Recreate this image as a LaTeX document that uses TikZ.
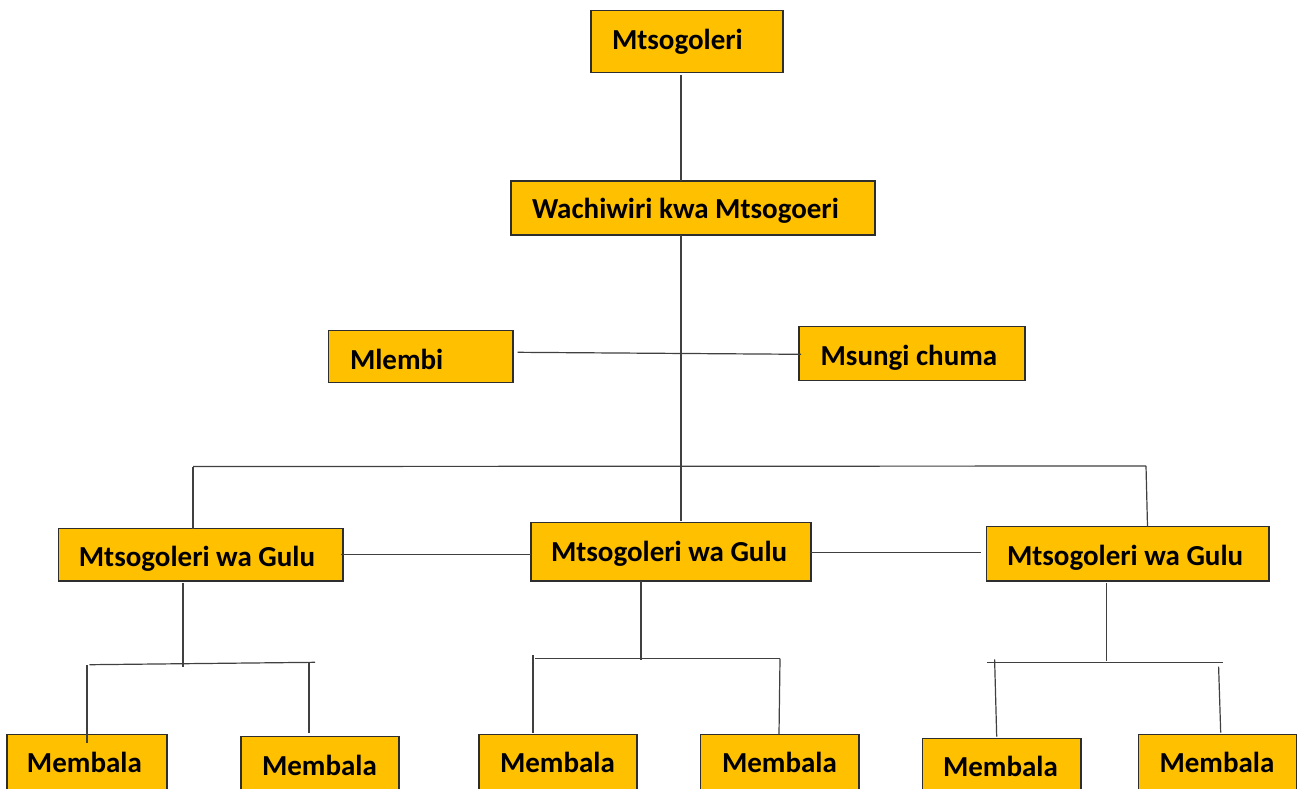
\documentclass[tikz,border=0pt]{standalone}
\usepackage{fontspec}
\setmainfont{Carlito}
\newcommand{\lbox}[2]{\makebox[#1][l]{#2}}
\begin{document}
\begin{tikzpicture}[x=1pt,y=-1pt,
  orgbox/.style={draw=black!82, line width=1.1pt, fill=boxfill, anchor=base west,
    inner ysep=0pt, outer sep=0pt,
    font=\fontsize{29}{34}\selectfont\bfseries, text=black},
  link/.style={draw=black!75, line width=1.2pt}]
\definecolor{boxfill}{HTML}{FFC000}
\useasboundingbox (0,0) rectangle (1298,788);
\clip (0,0) rectangle (1298,788);
\fill[white] (0,0) rectangle (1298,788);

% boxes: anchor base west at (left, baseline)
\node[orgbox, inner xsep=21pt, text height=38.6pt, text depth=23.4pt] (m) at (591,49.3) {\lbox{150pt}{Mtsogoleri}};
\node[orgbox, inner xsep=21pt, text height=37.3pt, text depth=16.7pt] (w) at (511,218.3) {\lbox{322pt}{Wachiwiri kwa Mtsogoeri}};
\node[orgbox, inner xsep=21.3pt, text height=38.6pt, text depth=13.4pt] (ml) at (328.7,369.3) {\lbox{141.7pt}{Mlembi}};
\node[orgbox, inner xsep=21.6pt, text height=38.6pt, text depth=15.4pt] (ms) at (799,365.3) {\lbox{182.8pt}{Msungi chuma}};
\node[orgbox, inner xsep=20pt, text height=38pt, text depth=14.3pt] (g1) at (58.9,566.7) {\lbox{244.1pt}{Mtsogoleri wa Gulu}};
\node[orgbox, inner xsep=20pt, text height=38.3pt, text depth=20pt] (g2) at (531,561) {\lbox{240pt}{Mtsogoleri wa Gulu}};
\node[orgbox, inner xsep=20.2pt, text height=38.3pt, text depth=16pt] (g3) at (986.8,565) {\lbox{241.8pt}{Mtsogoleri wa Gulu}};
\node[orgbox, inner xsep=20pt, text height=38.4pt, text depth=27.3pt] (e1) at (7,772.7) {\lbox{120pt}{Membala}};
\node[orgbox, inner xsep=21pt, text height=38.7pt, text depth=25pt] (e2) at (241,775) {\lbox{116pt}{Membala}};
\node[orgbox, inner xsep=21pt, text height=38.4pt, text depth=27.3pt] (e3) at (479,772.7) {\lbox{116pt}{Membala}};
\node[orgbox, inner xsep=21.2pt, text height=38.4pt, text depth=27.3pt] (e4) at (700.8,772.7) {\lbox{115.8pt}{Membala}};
\node[orgbox, inner xsep=20.3pt, text height=38pt, text depth=23.3pt] (e5) at (922.7,776.7) {\lbox{117.7pt}{Membala}};
\node[orgbox, inner xsep=20.7pt, text height=38.4pt, text depth=27.3pt] (e6) at (1138.8,772.7) {\lbox{116.6pt}{Membala}};

% junction coordinates
\coordinate (trunk) at (681,0);
\coordinate (barL) at (193,466.5);
\coordinate (barR) at (1146,466);
\coordinate (mlc) at (517.7,352.3);
\coordinate (msc) at (801,354.3);
\coordinate (j1) at (183,666.7);
\coordinate (b1L) at (89.5,664.7);
\coordinate (b1R) at (315,662.3);
\coordinate (j2) at (641,660);
\coordinate (b2L) at (535,658.7);
\coordinate (b2R) at (780,658.7);
\coordinate (j3) at (1106.6,660.7);
\coordinate (b3L) at (986.8,662.3);
\coordinate (b3R) at (1223,662.3);

% connectors
\draw[link] ([yshift=-2.5pt]trunk |- m.south) -- (trunk |- w.north);
\draw[link] (trunk |- w.south) -- ([yshift=2pt]trunk |- g2.north);
\draw[link] (mlc) -- (msc);
\draw[link] (barL) -- (barR);
\draw[link] (barL) -- (barL |- g1.north);
\draw[link] (barR) -- ([xshift=1.5pt]barR |- g3.north);
\draw[link] ([xshift=-2pt]g1.east) -- (g1.east -| g2.west);
\draw[link] ([xshift=-1.5pt,yshift=-1pt]g2.east) -- ([xshift=-6pt,yshift=-1pt]g2.east -| g3.west);

\draw[link] ([yshift=-2pt]j1 |- g1.south) -- (j1);
\draw[link] (b1L) -- (b1R);
\draw[link] (87,665) -- (87,742.7);
\draw[link] (309,662) -- (309,732.7);

\draw[link] (j2 |- g2.south) -- (j2);
\draw[link] (b2L) -- (b2R);
\draw[link] (533,655) -- (533,732.7);
\draw[link] (b2R) -- (779,734);

\draw[link] ([yshift=-2pt]j3 |- g3.south) -- (j3);
\draw[link] (b3L) -- (b3R);
\draw[link] (994.6,659.3) -- (996.7,736.7);
\draw[link] (1218.6,666.7) -- (1220.7,732.7);
\end{tikzpicture}
\end{document}
